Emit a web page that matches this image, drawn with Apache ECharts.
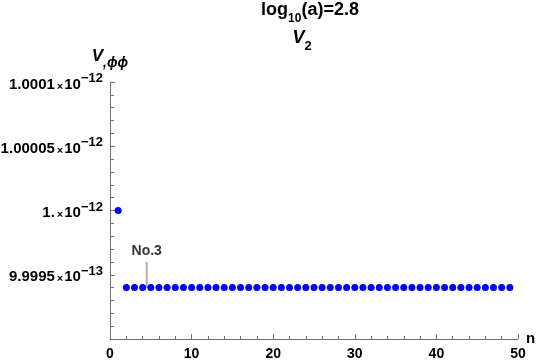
<!DOCTYPE html>
<html><head><meta charset="utf-8">
<script src="https://cdn.jsdelivr.net/npm/echarts@6/dist/echarts.min.js"></script>
<style>html,body{margin:0;padding:0;background:#fff}#c{width:540px;height:362px}</style>
</head><body><div id="c"></div>
<script>
// values in units of 10^-12
const nValues = Array.from({length:49},(_,i)=>i+1);
const vValues = [1.0, 0.99994,0.99994,0.99994,0.99994,0.99994,0.99994,0.99994,0.99994,0.99994,
 0.99994,0.99994,0.99994,0.99994,0.99994,0.99994,0.99994,0.99994,0.99994,0.99994,
 0.99994,0.99994,0.99994,0.99994,0.99994,0.99994,0.99994,0.99994,0.99994,0.99994,
 0.99994,0.99994,0.99994,0.99994,0.99994,0.99994,0.99994,0.99994,0.99994,0.99994,
 0.99994,0.99994,0.99994,0.99994,0.99994,0.99994,0.99994,0.99994,0.99994];
const yTickValues = [0.99995, 1.0, 1.00005, 1.0001];
const yTickMant = ['9.9995', '1.', '1.00005', '1.0001'];
const yTickExp = ['−13', '−12', '−12', '−12'];
const annotX = [4.5, 4.5];
const annotY = [0.99994, 0.99996];
const annotText = 'No.3';

const font = '"Liberation Sans", Arial, sans-serif';
const K = '#000';
const TC = '#707070';
const chart = echarts.init(document.getElementById('c'));
chart.setOption({
  animation:false,
  textStyle:{fontFamily:font},
  graphic:[
    {type:'text', x:310, y:1, z:10,
     style:{text:'{b|log}{s|10}{b|(a)=2.8}', align:'center', verticalAlign:'top',
       rich:{b:{fontSize:18,fontWeight:'bold',fill:K,fontFamily:font,lineHeight:24,verticalAlign:'top'},
             s:{fontSize:12,fontWeight:'bold',fill:K,fontFamily:font,lineHeight:24,verticalAlign:'bottom'}}}},
    {type:'text', x:302, y:29, z:10,
     style:{text:'{b|V}{s|2}', align:'center', verticalAlign:'top',
       rich:{b:{fontSize:18,fontWeight:'bold',fontStyle:'italic',fill:K,fontFamily:font,lineHeight:24,verticalAlign:'top'},
             s:{fontSize:13,fontWeight:'bold',fill:K,fontFamily:font,lineHeight:24,verticalAlign:'bottom'}}}}
  ],
  grid:{left:110,right:22,top:82,bottom:23,outerBoundsMode:'none',containLabel:false},
  xAxis:{type:'value',min:0,max:50,interval:10,
    name:'n',nameLocation:'end',nameGap:8,
    nameTextStyle:{fontSize:15,fontWeight:'bold',color:K,fontFamily:font,verticalAlign:'middle'},
    axisLine:{show:true,lineStyle:{color:TC,width:1}},
    axisTick:{show:true,inside:true,length:5,lineStyle:{color:TC,width:1}},
    minorTick:{show:true,splitNumber:5,length:3,lineStyle:{color:TC,width:1}},
    splitLine:{show:false},
    axisLabel:{fontSize:14,fontWeight:'bold',color:K,margin:8,fontFamily:font}},
  yAxis:{type:'value',min:0.9999,max:1.0001,interval:0.00005,
    name:'{v|V}{s|,ϕϕ}',nameLocation:'end',nameGap:12,
    nameTextStyle:{align:'center',rich:{v:{fontSize:17,fontWeight:'bold',fontStyle:'italic',color:K,fontFamily:font,lineHeight:22,verticalAlign:'top'},
                          s:{fontSize:14,fontWeight:'bold',fontStyle:'italic',color:K,fontFamily:font,lineHeight:22,verticalAlign:'bottom'}}},
    axisLine:{show:true,lineStyle:{color:TC,width:1}},
    axisTick:{show:true,inside:true,length:5,lineStyle:{color:TC,width:1}},
    minorTick:{show:true,splitNumber:5,length:4,lineStyle:{color:TC,width:1}},
    splitLine:{show:false},
    axisLabel:{margin:7,formatter:function(v){
        for(let i=0;i<yTickValues.length;i++){
          if(Math.abs(v-yTickValues[i])<1e-9) return '{a|'+yTickMant[i]+'}{x|×}{a|10}{s|'+yTickExp[i]+'}';
        }
        return '';
      },
      rich:{a:{fontSize:15,fontWeight:'bold',color:K,fontFamily:font,lineHeight:20,verticalAlign:'bottom'},
            x:{fontSize:11,fontWeight:'bold',color:K,fontFamily:font,lineHeight:20,verticalAlign:'bottom',padding:[0,1,0,2]},
            s:{fontSize:13,fontWeight:'bold',color:K,fontFamily:font,lineHeight:20,verticalAlign:'top'}}}},
  series:[
    {type:'line',data:annotX.map((x,i)=>[x,annotY[i]]),symbol:'none',lineStyle:{color:'#b0b0b0',width:2},silent:true,z:1},
    {type:'scatter',data:[[annotX[1],annotY[1]]],symbolSize:0,silent:true,
     label:{show:true,position:'top',distance:4,formatter:annotText,fontSize:14,fontWeight:'bold',color:K,fontFamily:font}},
    {type:'scatter',data:nValues.map((n,i)=>[n,vValues[i]]),symbol:'circle',symbolSize:7,
     itemStyle:{color:'#0000ff',opacity:1},z:3}
  ]
});
</script></body></html>
